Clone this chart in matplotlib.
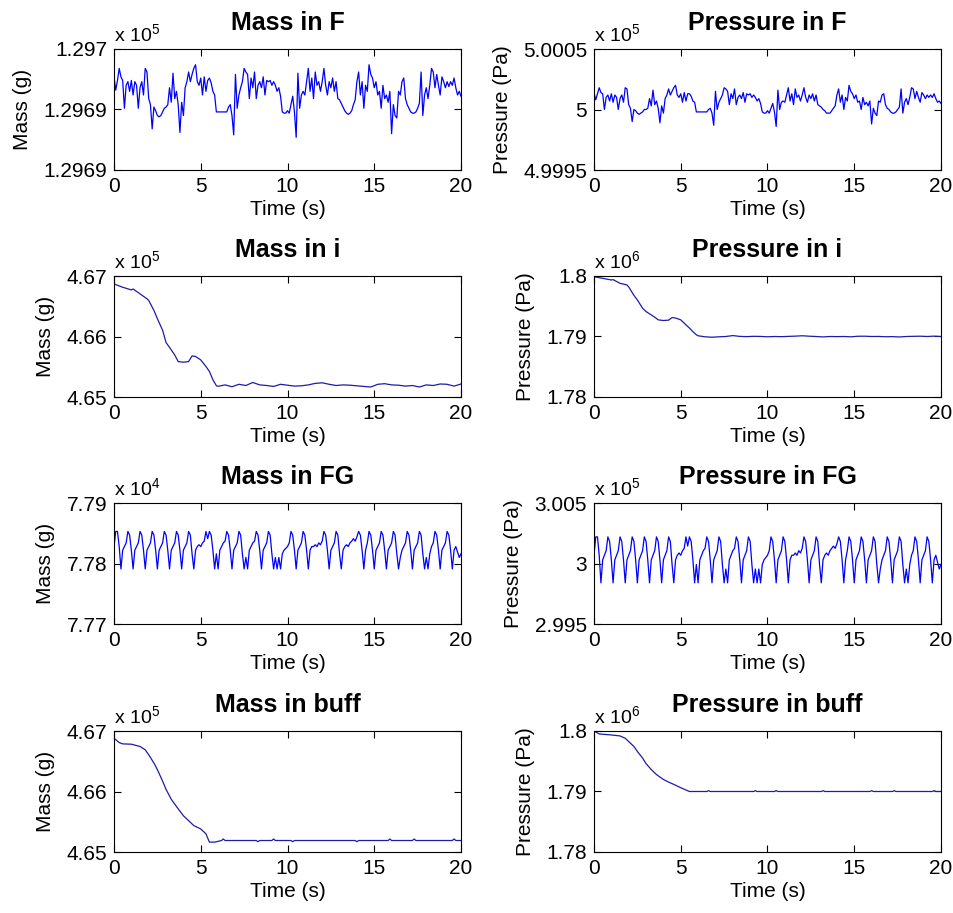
import numpy as np
import matplotlib
matplotlib.use("Agg")
import matplotlib.pyplot as plt

plt.rcParams["font.family"] = ["Liberation Sans", "DejaVu Sans"]
plt.rcParams["mathtext.fontset"] = "custom"
plt.rcParams["mathtext.rm"] = "Liberation Sans"
plt.rcParams["mathtext.it"] = "Liberation Sans:italic"
plt.rcParams["mathtext.bf"] = "Liberation Sans:bold"

# ----------------------------
# Data
# ----------------------------
t_fast = np.linspace(0, 20, 201)

mass_F = [
    129695.7, 129694.6, 129695.4, 129696.4, 129695.7, 129695.4, 129693.1, 129695.0, 129695.3, 129694.5,
    129695.4, 129694.2, 129695.3, 129695.0, 129693.1, 129694.8, 129695.3, 129694.2, 129696.4, 129696.1,
    129693.9, 129693.4, 129691.4, 129693.2, 129692.9, 129692.5, 129692.4, 129692.5, 129692.8, 129693.1,
    129693.2, 129693.4, 129694.8, 129693.6, 129696.0, 129693.9, 129694.5, 129693.4, 129691.1, 129693.6,
    129692.5, 129694.8, 129695.3, 129696.1, 129695.3, 129695.9, 129696.4, 129696.7, 129695.3, 129695.0,
    129695.6, 129694.2, 129695.7, 129694.5, 129695.4, 129695.6, 129695.2, 129694.5, 129694.2, 129692.8,
    129692.8, 129692.8, 129692.8, 129692.8, 129692.8, 129692.8, 129693.2, 129693.4, 129692.5, 129690.9,
    129695.9, 129693.1, 129694.2, 129694.8, 129695.3, 129696.4, 129696.1, 129695.9, 129693.9, 129695.6,
    129694.8, 129696.1, 129693.9, 129695.0, 129695.3, 129694.8, 129695.7, 129694.2, 129695.4, 129695.3,
    129695.4, 129695.0, 129695.3, 129695.0, 129694.5, 129694.8, 129694.1, 129692.8, 129692.7, 129692.7,
    129692.9, 129692.7, 129693.4, 129694.1, 129692.8, 129690.7, 129696.0, 129693.1, 129694.2, 129694.5,
    129694.2, 129695.3, 129696.4, 129694.5, 129695.6, 129693.9, 129696.1, 129695.0, 129695.3, 129694.5,
    129695.3, 129696.4, 129695.0, 129694.2, 129695.3, 129694.8, 129695.6, 129694.5, 129695.3, 129693.9,
    129693.8, 129693.5, 129693.2, 129692.9, 129692.7, 129692.6, 129692.7, 129692.9, 129693.4, 129693.8,
    129695.3, 129696.1, 129694.2, 129695.3, 129693.1, 129695.0, 129694.5, 129696.7, 129695.9, 129695.6,
    129694.8, 129695.3, 129694.2, 129694.5, 129693.1, 129695.0, 129693.9, 129694.2, 129693.6, 129694.5,
    129691.0, 129693.4, 129692.5, 129692.3, 129694.5, 129694.2, 129695.3, 129695.6, 129693.9, 129693.4,
    129693.1, 129692.8, 129692.7, 129692.7, 129692.8, 129693.1, 129693.5, 129696.1, 129692.5, 129694.2,
    129694.8, 129693.9, 129695.0, 129696.4, 129696.1, 129694.8, 129695.9, 129695.0, 129694.2, 129695.7,
    129695.3, 129694.8, 129695.3, 129694.9, 129695.3, 129695.0, 129695.6, 129694.8, 129694.2, 129694.5,
    129694.1,
]

pressure_F = [
    500014, 500008, 500013, 500018, 500014, 500013, 500000, 500010, 500012, 500007,
    500013, 500006, 500012, 500010, 500000, 500009, 500012, 500006, 500018, 500017,
    500004, 500001, 499990, 500000, 499999, 499997, 499996, 499997, 499998, 500000,
    500000, 500001, 500009, 500003, 500016, 500004, 500007, 500001, 499989, 500003,
    499997, 500009, 500012, 500017, 500012, 500015, 500018, 500020, 500012, 500010,
    500013, 500006, 500014, 500007, 500013, 500013, 500011, 500007, 500006, 499998,
    499998, 499998, 499998, 499998, 499998, 499998, 500000, 500001, 499997, 499987,
    500015, 500000, 500006, 500009, 500012, 500018, 500017, 500015, 500004, 500013,
    500009, 500017, 500004, 500010, 500012, 500009, 500014, 500006, 500013, 500012,
    500013, 500010, 500012, 500010, 500007, 500009, 500005, 499998, 499997, 499997,
    499999, 499997, 500001, 500005, 499998, 499986, 500016, 500000, 500006, 500007,
    500006, 500012, 500018, 500007, 500013, 500004, 500017, 500010, 500012, 500007,
    500012, 500018, 500010, 500006, 500012, 500009, 500013, 500007, 500012, 500004,
    500003, 500002, 500000, 499999, 499997, 499997, 499997, 499999, 500001, 500003,
    500012, 500017, 500006, 500012, 500000, 500010, 500007, 500020, 500015, 500013,
    500009, 500012, 500006, 500007, 500000, 500010, 500004, 500006, 500003, 500007,
    499988, 500001, 499997, 499995, 500007, 500006, 500012, 500013, 500004, 500001,
    500000, 499998, 499997, 499997, 499998, 500000, 500002, 500017, 499997, 500006,
    500009, 500004, 500010, 500018, 500017, 500009, 500015, 500010, 500006, 500014,
    500012, 500009, 500012, 500010, 500012, 500010, 500013, 500009, 500006, 500007,
    500005,
]

mass_FG = [
    77828, 77853, 77853, 77828, 77791, 77822, 77828, 77834, 77853, 77847,
    77822, 77791, 77822, 77828, 77834, 77853, 77847, 77822, 77791, 77822,
    77828, 77834, 77853, 77847, 77822, 77791, 77822, 77828, 77834, 77853,
    77847, 77822, 77791, 77822, 77828, 77834, 77853, 77847, 77822, 77791,
    77822, 77828, 77834, 77853, 77847, 77816, 77791, 77822, 77828, 77831,
    77828, 77834, 77837, 77853, 77841, 77853, 77847, 77822, 77791, 77816,
    77791, 77822, 77828, 77834, 77837, 77853, 77847, 77822, 77791, 77822,
    77828, 77834, 77853, 77847, 77816, 77791, 77810, 77791, 77822, 77828,
    77834, 77837, 77853, 77847, 77822, 77791, 77822, 77828, 77834, 77853,
    77847, 77816, 77791, 77810, 77791, 77810, 77791, 77816, 77822, 77825,
    77828, 77834, 77853, 77847, 77822, 77791, 77822, 77828, 77834, 77853,
    77847, 77822, 77791, 77822, 77828, 77828, 77831, 77828, 77834, 77831,
    77837, 77853, 77847, 77822, 77791, 77822, 77828, 77834, 77853, 77847,
    77816, 77791, 77822, 77828, 77831, 77828, 77834, 77837, 77841, 77837,
    77844, 77853, 77847, 77822, 77791, 77822, 77834, 77853, 77847, 77822,
    77791, 77822, 77828, 77834, 77853, 77847, 77822, 77791, 77822, 77828,
    77834, 77853, 77847, 77816, 77791, 77810, 77822, 77828, 77834, 77853,
    77847, 77822, 77791, 77822, 77828, 77834, 77853, 77847, 77816, 77791,
    77810, 77791, 77816, 77828, 77834, 77853, 77847, 77822, 77791, 77822,
    77828, 77834, 77853, 77847, 77822, 77791, 77822, 77828, 77819, 77810,
    77816,
]

pressure_FG = [
    300068, 300220, 300220, 300068, 299840, 300030, 300068, 300106, 300220, 300182,
    300030, 299840, 300030, 300068, 300106, 300220, 300182, 300030, 299840, 300030,
    300068, 300106, 300220, 300182, 300030, 299840, 300030, 300068, 300106, 300220,
    300182, 300030, 299840, 300030, 300068, 300106, 300220, 300182, 300030, 299840,
    300030, 300068, 300106, 300220, 300182, 299992, 299840, 300030, 300068, 300087,
    300068, 300106, 300125, 300220, 300144, 300220, 300182, 300030, 299840, 299992,
    299840, 300030, 300068, 300106, 300125, 300220, 300182, 300030, 299840, 300030,
    300068, 300106, 300220, 300182, 299992, 299840, 299954, 299840, 300030, 300068,
    300106, 300125, 300220, 300182, 300030, 299840, 300030, 300068, 300106, 300220,
    300182, 299992, 299840, 299954, 299840, 299954, 299840, 299992, 300030, 300049,
    300068, 300106, 300220, 300182, 300030, 299840, 300030, 300068, 300106, 300220,
    300182, 300030, 299840, 300030, 300068, 300068, 300087, 300068, 300106, 300087,
    300125, 300220, 300182, 300030, 299840, 300030, 300068, 300106, 300220, 300182,
    299992, 299840, 300030, 300068, 300087, 300068, 300106, 300125, 300144, 300125,
    300163, 300220, 300182, 300030, 299840, 300030, 300106, 300220, 300182, 300030,
    299840, 300030, 300068, 300106, 300220, 300182, 300030, 299840, 300030, 300068,
    300106, 300220, 300182, 299992, 299840, 299954, 300030, 300068, 300106, 300220,
    300182, 300030, 299840, 300030, 300068, 300106, 300220, 300182, 299992, 299840,
    299954, 299840, 299992, 300068, 300106, 300220, 300182, 300030, 299840, 300030,
    300068, 300106, 300220, 300182, 300030, 299840, 300030, 300068, 300011, 299954,
    299992,
]

t_i = [0, 0.5, 1.0, 1.1, 1.5, 1.9, 2.0, 2.3, 2.5, 2.8, 3.0, 3.2, 3.5, 3.7, 4.0, 4.3,
       4.5, 4.7, 5.0, 5.3, 5.5, 5.7, 5.9, 6.0,
       6.4, 6.8, 7.2, 7.6, 8.0, 8.4, 8.8, 9.2, 9.6, 10.0, 10.4, 10.8, 11.2, 11.6,
       12.0, 12.4, 12.8, 13.2, 13.6, 14.0, 14.4, 14.8, 15.2, 15.6, 16.0, 16.4,
       16.8, 17.2, 17.6, 18.0, 18.4, 18.8, 19.2, 19.6, 20.0]

mass_i = [466869, 466814, 466770, 466785, 466705, 466623, 466596, 466432, 466295, 466104,
          465900, 465820, 465695, 465586, 465575, 465586, 465679, 465670, 465613, 465504,
          465422, 465286, 465187, 465176,
          465200, 465170, 465210, 465190, 465240, 465200, 465190, 465175, 465210, 465195,
          465180, 465185, 465200, 465225, 465235, 465210, 465190, 465200, 465195, 465185,
          465175, 465165, 465210, 465220, 465200, 465195, 465180, 465190, 465165, 465200,
          465190, 465215, 465210, 465180, 465215]

pressure_i = [1799890, 1799615, 1799341, 1799400, 1798792, 1798517, 1798200, 1796800, 1796047, 1794674,
              1794125, 1793750, 1793192, 1792753, 1792643, 1792700, 1793137, 1793050, 1792750, 1791930,
              1791400, 1790800, 1790283, 1790118,
              1789950, 1789880, 1789950, 1790000, 1790150, 1790020, 1789980, 1790030, 1790010, 1789950,
              1790000, 1789970, 1790020, 1790060, 1790120, 1790050, 1790000, 1789930, 1790000, 1789980,
              1790000, 1789950, 1790040, 1790050, 1790000, 1790010, 1789960, 1789980, 1789920, 1790000,
              1790030, 1790050, 1790000, 1790060, 1790000]

t_mass_buff = [0, 0.3, 0.5, 1.0, 1.5, 1.8, 2.0, 2.3, 2.5, 2.8, 3.0, 3.3, 3.6, 4.0, 4.3, 4.6,
               5.0, 5.3, 5.5, 5.8,
               6.2, 6.3, 6.4, 8.2, 8.3, 8.4, 9.1, 9.2, 9.3, 10.2, 10.3, 10.4,
               13.9, 14.0, 14.1, 15.8, 15.9, 16.0, 17.2, 17.3, 17.4, 19.5, 19.6, 19.7, 20.0]
mass_buff = [466880, 466809, 466787, 466782, 466744, 466689, 466608, 466471, 466362, 466172,
             466035, 465872, 465752, 465599, 465518, 465436, 465381, 465300, 465163, 465163,
             465190, 465215, 465190, 465190, 465170, 465190, 465190, 465215, 465190,
             465190, 465170, 465190, 465190, 465170, 465190, 465190, 465215, 465190,
             465190, 465215, 465190, 465190, 465215, 465190, 465190]

t_pressure_buff = [0, 0.3, 1.0, 1.5, 1.8, 2.0, 2.3, 2.5, 2.8, 3.0, 3.3, 3.6, 4.0, 4.3, 4.6,
                   5.0, 5.3, 5.5,
                   6.5, 6.6, 6.7, 9.2, 9.3, 9.4, 10.4, 10.5, 10.6, 13.1, 13.2, 13.3,
                   15.9, 16.0, 16.1, 17.2, 17.3, 17.4, 19.5, 19.6, 19.7, 20.0]
pressure_buff = [1800000, 1799510, 1799346, 1799183, 1798801, 1798256, 1797439, 1796621, 1795531,
                 1794605, 1793624, 1792807, 1791989, 1791553, 1791172, 1790627, 1790245, 1790000,
                 1790000, 1790150, 1790000, 1790000, 1790150, 1790000, 1790000, 1790150, 1790000,
                 1790000, 1790150, 1790000, 1790000, 1790150, 1790000, 1790000, 1790150, 1790000,
                 1790000, 1790150, 1790000, 1790000]

# ----------------------------
# Figure
# ----------------------------
fig = plt.figure(figsize=(9.54, 9.13), dpi=100)

col_left = [114 / 954, 594 / 954]
row_bottom = [1 - 170 / 913, 1 - 397 / 913, 1 - 624 / 913, 1 - 852 / 913]
ax_w = 347 / 954
ax_h = 121 / 913


def make_panel(row, col, x, y, title, ylabel, ylim, ylabels, exponent, color="#0000ff"):
    ax = fig.add_axes([col_left[col], row_bottom[row], ax_w, ax_h])
    ax.plot(x, y, color=color, linewidth=0.9)
    ax.set_xlim(0, 20)
    ax.set_ylim(ylim)
    ax.set_xticks([0, 5, 10, 15, 20])
    ax.set_yticks([ylim[0], (ylim[0] + ylim[1]) / 2, ylim[1]])
    ax.set_yticklabels(ylabels)
    ax.tick_params(direction="in", top=True, right=True, length=5, width=0.8,
                   labelsize=15, pad=5)
    ax.set_title(title, fontsize=18, fontweight="bold", pad=14)
    ax.set_xlabel("Time (s)", fontsize=15, labelpad=3)
    ax.set_ylabel(ylabel, fontsize=15, labelpad=8)
    ax.text(0, 1.03, r"x 10$^{%d}$" % exponent, transform=ax.transAxes,
            fontsize=14, ha="left", va="bottom")
    return ax


make_panel(0, 0, t_fast, mass_F, "Mass in F", "Mass (g)",
           (129688, 129698), ["1.2969", "1.2969", "1.297"], 5)
make_panel(0, 1, t_fast, pressure_F, "Pressure in F", "Pressure (Pa)",
           (499950, 500050), ["4.9995", "5", "5.0005"], 5)
make_panel(1, 0, t_i, mass_i, "Mass in i", "Mass (g)",
           (465000, 467000), ["4.65", "4.66", "4.67"], 5, color="#1c1ca8")
make_panel(1, 1, t_i, pressure_i, "Pressure in i", "Pressure (Pa)",
           (1780000, 1800000), ["1.78", "1.79", "1.8"], 6, color="#1c1ca8")
make_panel(2, 0, t_fast, mass_FG, "Mass in FG", "Mass (g)",
           (77700, 77900), ["7.77", "7.78", "7.79"], 4)
make_panel(2, 1, t_fast, pressure_FG, "Pressure in FG", "Pressure (Pa)",
           (299500, 300500), ["2.995", "3", "3.005"], 5)
make_panel(3, 0, t_mass_buff, mass_buff, "Mass in buff", "Mass (g)",
           (465000, 467000), ["4.65", "4.66", "4.67"], 5, color="#1c1ca8")
make_panel(3, 1, t_pressure_buff, pressure_buff, "Pressure in buff", "Pressure (Pa)",
           (1780000, 1800000), ["1.78", "1.79", "1.8"], 6, color="#1c1ca8")

plt.savefig("out.png", dpi=100)
plt.close()
